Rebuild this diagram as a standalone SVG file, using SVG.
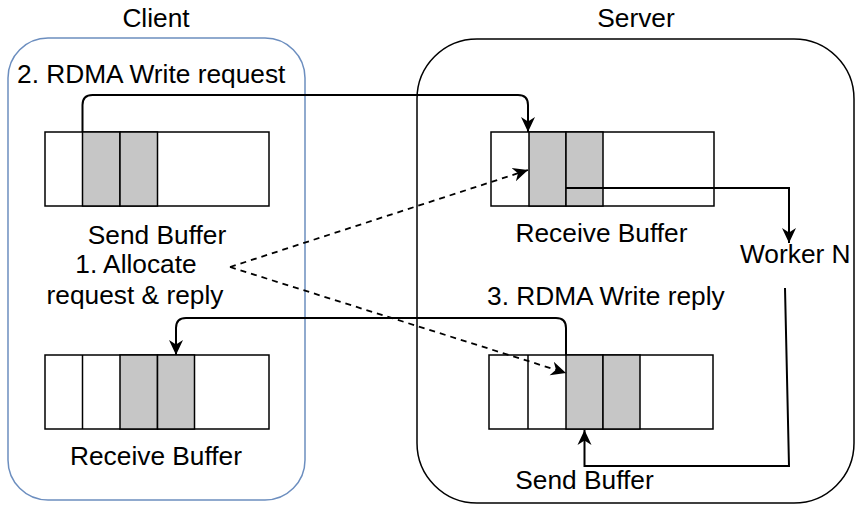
<svg xmlns="http://www.w3.org/2000/svg" width="856" height="507" viewBox="0 0 856 507">
  <style>
    text { font-family: "Liberation Sans", Arial, Helvetica, sans-serif; font-size: 26.3px; fill: #000; }
    .cell { fill: #fff; stroke: #000; stroke-width: 1.5; }
    .used { fill: #c6c6c6; stroke: #000; stroke-width: 1.5; }
    .flow { fill: none; stroke: #000; stroke-width: 2; }
    .dash { fill: none; stroke: #000; stroke-width: 1.8; stroke-dasharray: 6 5; }
  </style>
  <defs>
    <marker id="arrow" markerUnits="userSpaceOnUse" viewBox="0 -8 16 16" refX="15" refY="0" markerWidth="16" markerHeight="16" orient="auto">
      <path d="M0,-7 L15,0 L0,7 L4.5,0 Z" fill="#000"/>
    </marker>
  </defs>

  <!-- containers -->
  <g id="client">
    <rect x="8" y="38" width="297" height="462" rx="40" fill="none" stroke="#6c8ebf" stroke-width="1.5"/>
    <text x="156" y="27" text-anchor="middle">Client</text>
  </g>
  <g id="server">
    <rect x="417" y="39" width="437" height="464" rx="60" fill="none" stroke="#000" stroke-width="1.5"/>
    <text x="636" y="27" text-anchor="middle">Server</text>
  </g>

  <!-- client send buffer -->
  <g id="client-send-buffer">
    <rect class="cell" x="45" y="132" width="224" height="74"/>
    <rect class="used" x="82.5" y="132" width="37.5" height="74"/>
    <rect class="used" x="120" y="132" width="37.5" height="74"/>
    <text x="157" y="244" text-anchor="middle">Send Buffer</text>
  </g>

  <!-- client receive buffer -->
  <g id="client-receive-buffer">
    <rect class="cell" x="45" y="355" width="224" height="74"/>
    <line x1="82.5" y1="355" x2="82.5" y2="429" stroke="#000" stroke-width="1.5"/>
    <rect class="used" x="120" y="355" width="37.5" height="74"/>
    <rect class="used" x="157.5" y="355" width="37" height="74"/>
    <text x="156" y="465" text-anchor="middle">Receive Buffer</text>
  </g>

  <!-- server receive buffer -->
  <g id="server-receive-buffer">
    <rect class="cell" x="491" y="132" width="223" height="74"/>
    <rect class="used" x="529" y="132" width="37" height="74"/>
    <rect class="used" x="566" y="132" width="37" height="74"/>
    <text x="601.5" y="242" text-anchor="middle">Receive Buffer</text>
  </g>

  <!-- server send buffer -->
  <g id="server-send-buffer">
    <rect class="cell" x="489" y="355" width="224" height="74"/>
    <line x1="528" y1="355" x2="528" y2="429" stroke="#000" stroke-width="1.5"/>
    <rect class="used" x="566" y="355" width="37" height="74"/>
    <rect class="used" x="603" y="355" width="37" height="74"/>
    <text x="584.5" y="489" text-anchor="middle">Send Buffer</text>
  </g>

  <g id="worker">
    <text x="740" y="263">Worker N</text>
  </g>

  <g id="labels">
    <text x="17" y="83">2. RDMA Write request</text>
    <text x="136" y="273" text-anchor="middle">1. Allocate</text>
    <text x="135" y="304" text-anchor="middle">request &amp; reply</text>
    <text x="487" y="305">3. RDMA Write reply</text>
  </g>

  <!-- connectors -->
  <g id="connectors">
    <path class="flow" d="M82.5,132 V105 Q82.5,95 92.5,95 H518 Q528,95 528,105 V132" marker-end="url(#arrow)"/>
    <path class="flow" d="M566,355 V328 Q566,318 556,318 H186 Q176,318 176,328 V355" marker-end="url(#arrow)"/>
    <path class="flow" stroke-width="2.5" d="M566,188 H789 V243" marker-end="url(#arrow)"/>
    <path class="flow" d="M785,288 L789,466 H584.5 V430" marker-end="url(#arrow)"/>
    <path class="dash" d="M230,267 L528,170" marker-end="url(#arrow)"/>
    <path class="dash" d="M230,267 L566,373" marker-end="url(#arrow)"/>
  </g>
</svg>
